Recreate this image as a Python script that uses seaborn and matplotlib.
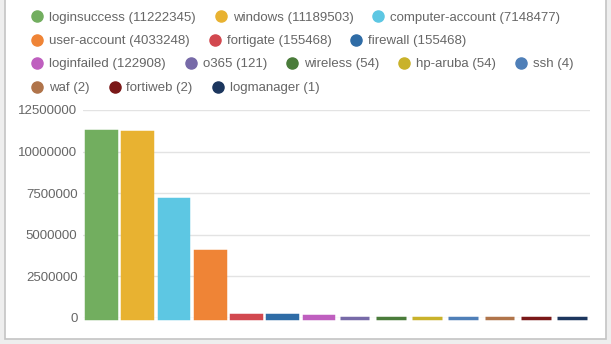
import pandas as pd
import seaborn as sns
import matplotlib
matplotlib.use("Agg")
import matplotlib.pyplot as plt
from matplotlib.lines import Line2D
from matplotlib.patches import Rectangle

sources = ["loginsuccess", "windows", "computer-account", "user-account", "fortigate",
           "firewall", "loginfailed", "o365", "wireless", "hp-aruba", "ssh", "waf",
           "fortiweb", "logmanager"]
counts = [11222345, 11189503, 7148477, 4033248, 155468, 155468, 122908, 121, 54, 54, 4, 2, 2, 1]
colors = ["#72ae5f", "#e8b231", "#5dc7e3", "#ef8436", "#d2484f", "#2f6ca6", "#bf5fbf",
          "#776aa8", "#4a7c3a", "#c9b22a", "#4f7fb8", "#b0744a", "#7a1818", "#1c365e"]
legend_rows = [[0, 1, 2], [3, 4, 5], [6, 7, 8, 9, 10], [11, 12, 13]]
y_ticks = [0, 2500000, 5000000, 7500000, 10000000, 12500000]

df = pd.DataFrame({"source": sources, "count": counts})

sns.set_theme(style="white")
plt.rcParams["font.family"] = ["Liberation Sans", "DejaVu Sans"]

W, H = 611, 344
fig = plt.figure(figsize=(W / 100, H / 100), dpi=100)
fig.patch.set_facecolor("#eeeeee")
fig.patches.append(Rectangle((5 / W, 5 / H), 601 / W, 1.0, transform=fig.transFigure,
                             facecolor="white", edgecolor="#c4c4c4", linewidth=1.2, zorder=-5))

ax = fig.add_axes([83 / W, 1 - 318 / H, 507 / W, 208 / H])
ax.set_facecolor("none")
sns.barplot(data=df, x="source", y="count", hue="source", palette=colors, legend=False,
            saturation=1, width=0.82, ax=ax, zorder=3)
for bar, c in zip(ax.patches, colors):
    bar.set_edgecolor(c)
    bar.set_linewidth(2.5)
    bar.set_clip_on(False)

ax.set_ylim(0, 12500000)
ax.set_xlim(-0.5, len(sources) - 0.5)
ax.set_yticks(y_ticks)
ax.set_yticklabels([str(v) for v in y_ticks])
ax.set_xticks([])
ax.set_xlabel("")
ax.set_ylabel("")
ax.grid(axis="y", color="#e3e3e3", linewidth=1.0, zorder=0)
ax.tick_params(axis="y", length=0, pad=4, labelsize=9.5, labelcolor="#666666")
for s in ax.spines.values():
    s.set_visible(False)

# legend laid out as a flowing row list
renderer = fig.canvas.get_renderer()
for r, row in enumerate(legend_rows):
    y = 16 + 23.5 * r
    x = 37
    for i in row:
        fig.add_artist(Line2D([x / W], [1 - y / H], marker="o", markersize=8, color=colors[i],
                              linestyle="none", transform=fig.transFigure))
        t = fig.text((x + 12) / W, 1 - y / H, f"{sources[i]} ({counts[i]})", va="center_baseline",
                     ha="left", fontsize=9.5, color="#666666")
        bb = t.get_window_extent(renderer)
        x = bb.x1 + 25

plt.savefig("out.png", dpi=100, facecolor=fig.get_facecolor())
